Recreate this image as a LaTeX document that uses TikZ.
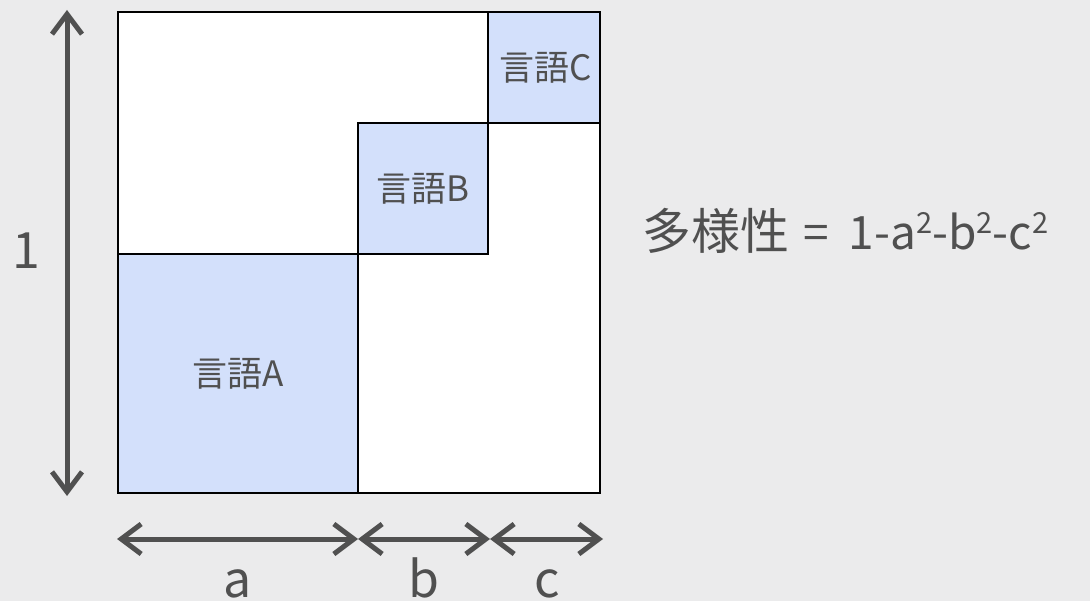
\documentclass[tikz,border=0pt]{standalone}
\usepackage{fontspec}
\setmainfont{Noto Sans CJK JP}
\usetikzlibrary{arrows.meta}
\definecolor{bg}{RGB}{235,235,236}
\definecolor{lang}{RGB}{211,224,251}
\definecolor{ink}{RGB}{80,80,80}
\tikzset{
  sq/.style={draw=black, line width=2pt, inner sep=0pt, outer sep=0pt},
  langbox/.style={sq, fill=lang, text=ink, font=\fontsize{35}{40}\selectfont},
  dimarrow/.style={draw=ink, line width=5pt,
    arrows={Straight Barb[length=20pt,width=30pt]-Straight Barb[length=20pt,width=30pt]}},
  dimlabel/.style={text=ink, inner sep=0pt, font=\fontsize{50}{56}\selectfont},
}
\newcommand{\sqtwo}{\raisebox{16pt}{\fontsize{29}{30}\selectfont 2}}
\begin{document}
\begin{tikzpicture}[x=1pt,y=-1pt]
\useasboundingbox[fill=bg] (0,0) rectangle (1090,601);
% whole square
\node[sq, fill=white, minimum width=482pt, minimum height=481pt, anchor=north west] (sqr) at (118,12) {};
% language boxes
\node[langbox, minimum width=240pt, minimum height=239pt, anchor=north west] (A) at (118,254) {言語A};
\node[langbox, minimum width=130pt, minimum height=131pt, anchor=north west] (B) at (358,123) {言語B};
\node[langbox, minimum width=112pt, minimum height=111pt, anchor=north west] (C) at (488,12) {\hspace*{4pt}言語C};
% dimension coordinates
\coordinate (vt) at (67,10);
\coordinate (vb) at (67,496);
\coordinate (h0) at (117,539);
\coordinate (h1) at (358,539);
\coordinate (h2) at (490,539);
\coordinate (h3) at (603,539);
\draw[dimarrow] (vt) -- (vb);
\draw[dimarrow] (h0) -- (h1);
\draw[dimarrow] (h1) -- (h2);
\draw[dimarrow] (h2) -- (h3);
% labels
\node[dimlabel, anchor=base] (l1) at (26,269) {1};
\node[dimlabel, anchor=base] (la) at (238,597) {a};
\node[dimlabel, anchor=base] (lb) at (424,597) {b};
\node[dimlabel, anchor=base] (lc) at (547,597) {c};
\node[text=ink, inner sep=0pt, anchor=base west, font=\fontsize{46}{50}\selectfont] (f) at (642,250)
  {{\fontsize{49}{52}\selectfont 多様性}\hspace{14pt}=\hspace{20pt}1-a\sqtwo-b\sqtwo-c\sqtwo};
\end{tikzpicture}
\end{document}
